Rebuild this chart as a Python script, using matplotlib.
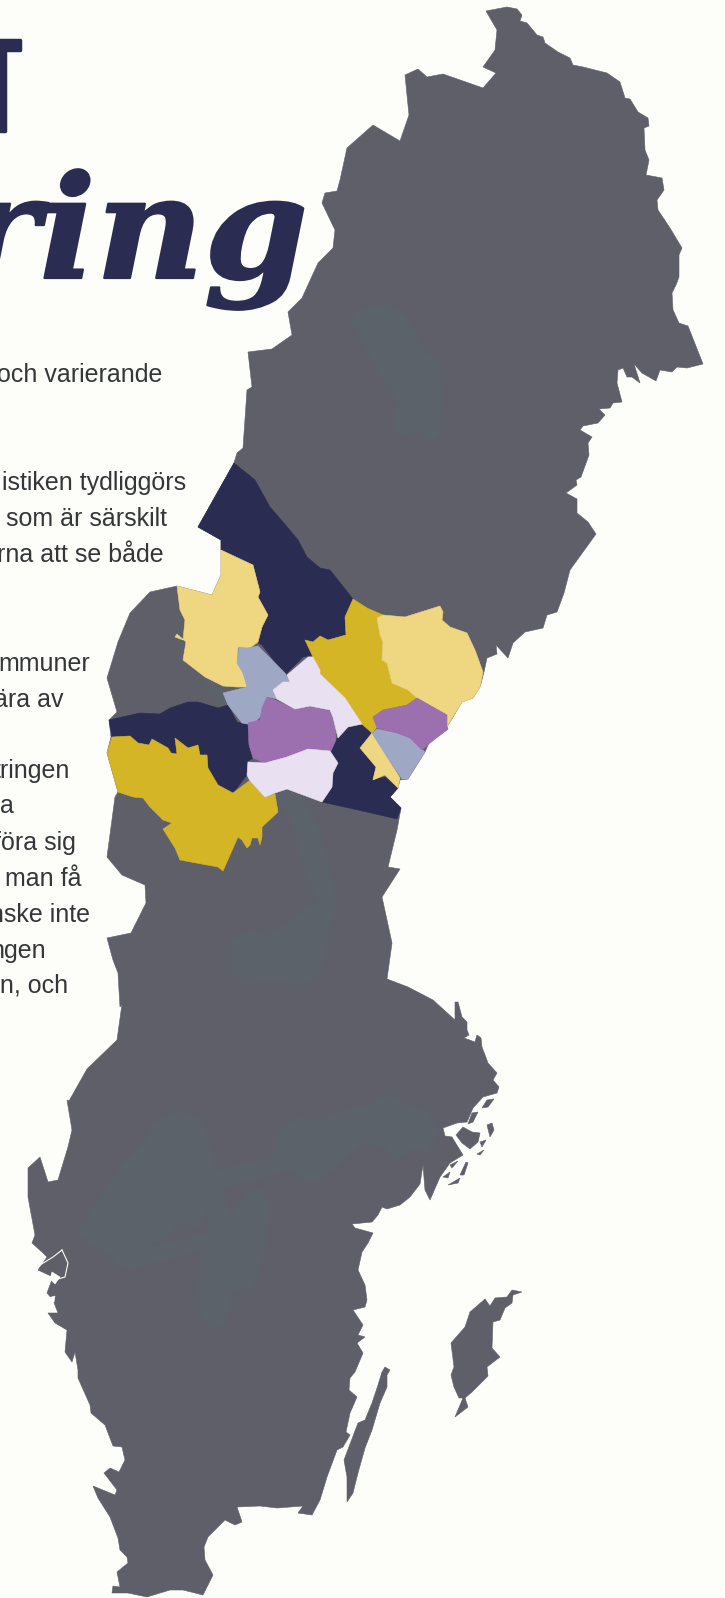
import matplotlib
matplotlib.use("Agg")
import matplotlib.pyplot as plt
from matplotlib.patheffects import AbstractPathEffect
from matplotlib.transforms import Affine2D

# outlines, in image pixels (x, y)
mainland = [
    (486, 11), (507, 7), (517, 9), (522, 15), (520, 21), (527, 23), (537, 35), (543, 37), (545, 43), (558, 52),
    (570, 58), (573, 65), (583, 67), (607, 73), (620, 82), (625, 98), (630, 99), (638, 112), (648, 118), (649, 126),
    (644, 128), (645, 150), (649, 160), (646, 175), (662, 178), (664, 190), (657, 200), (658, 210), (670, 228),
    (682, 248), (679, 255), (679, 277), (676, 285), (672, 293), (673, 310), (679, 323), (688, 326), (703, 364),
    (687, 368), (677, 367), (672, 372), (660, 370), (656, 381), (642, 373), (634, 364), (640, 383), (632, 377),
    (627, 377), (623, 368), (618, 370), (617, 383), (622, 402), (613, 403), (610, 408), (599, 409), (605, 415),
    (598, 423), (583, 426), (580, 430), (592, 437), (588, 443), (589, 455), (581, 477), (576, 480), (577, 485),
    (566, 493), (577, 499), (577, 513), (588, 522), (596, 534), (583, 552), (570, 570), (564, 593), (557, 612),
    (547, 615), (543, 628), (525, 632), (513, 643), (508, 658), (496, 645), (497, 654), (487, 658), (484, 672),
    (480, 687), (473, 698), (462, 702), (447, 727), (448, 729), (429, 743), (425, 752), (408, 779), (400, 780),
    (398, 788), (390, 797), (401, 808), (397, 830), (388, 867), (400, 869), (382, 897), (392, 943), (387, 979),
    (408, 987), (433, 1000), (455, 1020), (455, 1002), (458, 1002), (462, 1017), (467, 1022), (467, 1030),
    (469, 1035), (464, 1038), (475, 1042), (477, 1035), (481, 1038), (482, 1047), (488, 1063), (497, 1073),
    (493, 1080), (499, 1087), (497, 1093), (483, 1097), (473, 1108), (467, 1122), (457, 1123), (443, 1128),
    (445, 1136), (452, 1137), (455, 1142), (463, 1155), (450, 1163), (440, 1177), (430, 1200), (425, 1190),
    (423, 1165), (420, 1184), (410, 1197), (400, 1205), (387, 1209), (382, 1207), (378, 1215), (372, 1222),
    (352, 1224), (355, 1228), (373, 1233), (368, 1243), (362, 1252), (358, 1270), (365, 1285), (367, 1300),
    (365, 1307), (353, 1310), (363, 1325), (358, 1335), (365, 1337), (357, 1343), (363, 1353), (355, 1372),
    (350, 1378), (349, 1390), (357, 1397), (350, 1413), (346, 1432), (350, 1435), (343, 1447), (337, 1450),
    (327, 1477), (320, 1500), (312, 1515), (298, 1513), (303, 1506), (277, 1508), (260, 1506), (237, 1507),
    (242, 1522), (235, 1525), (225, 1520), (208, 1537), (204, 1547), (205, 1560), (213, 1575), (203, 1595),
    (183, 1590), (170, 1590), (147, 1597), (128, 1593), (112, 1593), (113, 1586), (120, 1587), (117, 1572),
    (128, 1563), (127, 1557), (120, 1550), (118, 1538), (110, 1517), (98, 1498), (93, 1486), (115, 1495),
    (117, 1490), (104, 1473), (110, 1468), (119, 1472), (125, 1460), (122, 1447), (113, 1446), (105, 1425),
    (91, 1413), (90, 1405), (78, 1378), (78, 1370), (75, 1352), (72, 1362), (65, 1352), (67, 1330), (55, 1323),
    (48, 1313), (58, 1313), (53, 1300), (47, 1293), (53, 1277), (38, 1270), (47, 1257), (43, 1253), (32, 1243),
    (35, 1235), (28, 1197), (28, 1168), (40, 1157), (48, 1182), (58, 1180), (68, 1147), (72, 1130), (67, 1100),
    (69, 1101), (87, 1069), (117, 1040), (122, 1004), (120, 1007), (118, 973), (113, 960), (107, 938), (131, 933),
    (146, 903), (145, 885), (122, 875), (107, 857), (115, 797), (118, 792), (107, 753), (111, 737), (109, 720),
    (117, 712), (107, 678), (118, 642), (130, 613), (150, 592), (177, 586), (212, 595), (221, 575), (221, 540),
    (198, 527), (234, 463), (237, 453), (243, 448), (247, 390), (252, 387), (248, 352), (272, 349), (292, 335),
    (288, 312), (302, 298), (318, 263), (333, 248), (335, 230), (322, 203), (325, 193), (337, 191), (340, 180),
    (347, 148), (373, 125), (400, 141), (409, 115), (405, 75), (418, 69), (427, 77), (443, 74), (483, 88),
    (496, 73), (483, 67), (495, 50), (497, 30),
]
gotland = [
    (522, 1292), (512, 1290), (507, 1297), (495, 1298), (490, 1306), (485, 1299), (470, 1312), (465, 1327),
    (451, 1343), (454, 1367), (451, 1375), (454, 1387), (459, 1398), (463, 1398), (455, 1417), (468, 1407),
    (465, 1398), (472, 1392), (488, 1376), (487, 1367), (500, 1357), (492, 1348), (493, 1322), (500, 1320),
    (505, 1308), (512, 1303), (513, 1295),
]
oland = [
    (385, 1367), (390, 1370), (387, 1375), (387, 1387), (380, 1403), (372, 1430), (365, 1448), (358, 1473),
    (353, 1493), (347, 1502), (347, 1477), (344, 1460), (358, 1423), (365, 1420), (372, 1403), (378, 1385),
    (382, 1372),
]
skerries = [
    [(482, 1108), (487, 1100), (494, 1099), (488, 1107)],
    [(468, 1124), (472, 1113), (478, 1112), (473, 1122)],
    [(487, 1125), (492, 1123), (494, 1130), (490, 1137)],
    [(463, 1127), (472, 1132), (480, 1133), (478, 1142), (470, 1149), (462, 1143), (456, 1135)],
    [(480, 1142), (486, 1140), (482, 1147)],
    [(477, 1154), (484, 1150), (480, 1155)],
    [(460, 1175), (466, 1162), (468, 1163), (464, 1175)],
    [(443, 1177), (450, 1172), (448, 1178)],
    [(448, 1185), (460, 1178), (458, 1183)],
    [(450, 1165), (458, 1161), (452, 1168)],
]
west_channel = [(62, 1250), (68, 1263), (65, 1277), (58, 1279), (53, 1277)]
west_channel2 = [(62, 1250), (53, 1257), (40, 1265)]
west_holes = [
    [(52, 1272), (60, 1277), (55, 1284), (50, 1279)],
    [(48, 1298), (55, 1296), (54, 1302), (49, 1303)],
]

# lighter mountain areas under the counties
fjall_north = [
    (350, 320), (358, 310), (390, 303), (407, 317), (427, 353), (440, 360), (443, 400), (438, 437), (427, 442),
    (417, 430), (403, 437), (393, 430), (397, 397), (377, 370),
]
fjall_mid = [(205, 675), (223, 690), (228, 702), (222, 707), (207, 693)]
fjall_band = [
    (283, 790), (300, 793), (320, 830), (337, 900), (320, 975), (300, 985), (270, 980), (245, 985), (230, 970),
    (232, 940), (250, 930), (270, 935), (290, 920), (318, 900), (305, 870), (290, 820), (275, 795),
]
fjall_south = [
    (78, 1233), (92, 1210), (120, 1167), (148, 1137), (152, 1123), (177, 1112), (200, 1117), (210, 1143),
    (215, 1170), (273, 1157), (273, 1137), (297, 1117), (320, 1120), (345, 1110), (370, 1105), (383, 1097),
    (393, 1095), (407, 1107), (427, 1110), (440, 1130), (428, 1152), (413, 1148), (397, 1162), (385, 1147),
    (360, 1145), (320, 1182), (307, 1182), (290, 1170), (223, 1188), (230, 1217), (250, 1190), (263, 1190),
    (270, 1207), (265, 1253), (253, 1287), (233, 1292), (225, 1325), (213, 1330), (202, 1317), (197, 1287),
    (202, 1250), (130, 1270), (115, 1263), (113, 1255), (95, 1247),
]
fjall_gap = [(153, 1245), (172, 1236), (175, 1224), (200, 1228), (208, 1205), (207, 1232), (180, 1240)]

navy_north = [
    (234, 463), (255, 480), (270, 507), (283, 522), (298, 540), (307, 557), (320, 568), (330, 570), (353, 599),
    (345, 617), (346, 635), (328, 640), (320, 636), (313, 642), (305, 640), (313, 655), (303, 657), (285, 675),
    (262, 645), (257, 642), (262, 627), (268, 615), (258, 597), (260, 592), (253, 565), (221, 550), (221, 540),
    (198, 527),
]
navy_west = [
    (109, 720), (140, 713), (160, 714), (170, 708), (188, 702), (198, 702), (218, 708), (228, 705), (237, 722),
    (248, 725), (249, 745), (253, 758), (247, 762), (247, 775), (233, 793), (218, 785), (208, 768), (207, 755),
    (200, 755), (198, 745), (188, 748), (175, 738), (177, 754), (171, 753), (168, 748), (152, 739), (149, 745),
    (138, 743), (130, 736), (112, 737),
]
navy_east = [
    (362, 725), (372, 733), (360, 748), (376, 767), (372, 780), (385, 777), (398, 788), (390, 797), (401, 808),
    (397, 819), (367, 812), (322, 802), (332, 788), (333, 773), (338, 763), (330, 750), (337, 738), (348, 727),
]
gold_west = [
    (107, 753), (112, 737), (130, 736), (138, 743), (149, 745), (152, 739), (168, 748), (171, 753), (177, 754),
    (175, 738), (188, 748), (198, 745), (200, 755), (207, 755), (208, 768), (218, 785), (233, 793), (249, 781),
    (265, 797), (275, 794), (278, 812), (262, 827), (262, 837), (260, 845), (258, 838), (252, 838), (250, 845),
    (247, 848), (242, 840), (238, 837), (223, 871), (218, 867), (180, 860), (175, 848), (163, 829), (172, 823),
    (163, 820), (150, 807), (143, 798), (133, 797), (118, 792),
]
gold_east = [
    (353, 599), (367, 608), (383, 615), (377, 618), (380, 635), (383, 642), (382, 660), (387, 663), (392, 683),
    (408, 690), (417, 698), (407, 705), (383, 710), (373, 717), (377, 727), (372, 733), (362, 724), (345, 698),
    (320, 674), (320, 669), (313, 657), (305, 640), (313, 642), (320, 636), (328, 640), (346, 635), (345, 617),
]
yellow_west = [
    (221, 550), (253, 565), (260, 592), (258, 597), (268, 615), (262, 627), (258, 642), (247, 650), (238, 647),
    (237, 660), (245, 678), (247, 687), (237, 687), (223, 686), (205, 677), (183, 660), (186, 642), (177, 634),
    (175, 637), (183, 640), (185, 620), (180, 610), (177, 586), (212, 595), (221, 575),
]
yellow_east = [
    (383, 615), (405, 617), (440, 606), (443, 612), (442, 620), (450, 627), (467, 633), (475, 650), (483, 672),
    (480, 687), (473, 698), (462, 702), (452, 718), (447, 727), (447, 715), (417, 698), (408, 690), (392, 683),
    (387, 663), (382, 660), (383, 642), (380, 635), (377, 618),
]
yellow_south = [
    (372, 733), (387, 757), (400, 778), (398, 788), (393, 783), (385, 775), (373, 780), (376, 767), (360, 748),
]
blue_west = [
    (239, 647), (247, 648), (258, 646), (285, 673), (290, 682), (283, 682), (273, 690), (278, 699), (267, 697),
    (262, 715), (255, 722), (248, 724), (242, 723), (228, 705), (223, 693), (247, 687), (243, 673), (237, 663),
]
blue_east = [
    (372, 733), (377, 729), (397, 733), (410, 738), (425, 752), (408, 779), (402, 779), (387, 757),
]
purple_west = [
    (267, 697), (275, 700), (295, 709), (310, 706), (330, 711), (335, 718), (336, 740), (331, 751), (308, 749),
    (287, 757), (265, 763), (253, 758), (249, 745), (248, 723), (260, 720), (262, 708),
]
purple_east = [
    (417, 698), (447, 715), (447, 727), (448, 729), (430, 743), (422, 750), (410, 738), (397, 733), (377, 728),
    (373, 717), (383, 710), (407, 705),
]
lilac_north = [
    (287, 675), (308, 657), (313, 657), (320, 670), (320, 674), (345, 698), (362, 724), (348, 727), (338, 738),
    (333, 717), (330, 710), (310, 706), (295, 709), (277, 699), (273, 690), (283, 682), (290, 682),
]
lilac_south = [
    (248, 762), (265, 763), (287, 757), (308, 749), (330, 751), (338, 763), (333, 773), (332, 787), (322, 802),
    (287, 789), (275, 793), (265, 797), (250, 781), (247, 775),
]

# visible ends of the intro text lines, cut by the left edge of the page
body_lines = [
    "och varierande", "istiken tydliggörs", "som är särskilt", "rna att se både", "mmuner", "ära av",
    "tringen", "a", "föra sig", "man få", "anske inte", "ngen", "en, och",
]
body_right = [162, 186, 167, 164, 90, 64, 70, 14, 76, 82, 90, 46, 68]
body_base = [382, 490, 526, 562, 671, 707, 778, 813, 850, 886, 922, 958, 993]

BG = "#fdfef9"
GREY = "#5f5f69"
FJALL = "#5c6269"
NAVY = "#2a2c52"
GOLD = "#d4b526"
YELLOW = "#efd680"
BLUE = "#9ea8c5"
PURPLE = "#9c6faf"
LILAC = "#e9e0f1"
INK = "#35363a"


class StretchX(AbstractPathEffect):
    # no installed face has these title proportions, so stretch and embolden the glyphs
    def __init__(self, sx, lw=0.0):
        super().__init__()
        self.sx = sx
        self.lw = lw

    def draw_path(self, renderer, gc, tpath, affine, rgbFace=None):
        gc0 = renderer.new_gc()
        gc0.copy_properties(gc)
        gc0.set_linewidth(self.lw)
        gc0.set_foreground(rgbFace)
        renderer.draw_path(gc0, tpath, Affine2D().scale(self.sx, 1) + affine, rgbFace)
        gc0.restore()


def draw_shape(ax, pts, color, z):
    xs = [p[0] for p in pts]
    ys = [p[1] for p in pts]
    ax.fill(xs, ys, facecolor=color, edgecolor=color, linewidth=0.4, zorder=z)


fig = plt.figure(figsize=(7.25, 15.98), dpi=100, facecolor=BG)
ax = fig.add_axes([0, 0, 1, 1])
ax.set_xlim(0, 725)
ax.set_ylim(1598, 0)
ax.axis("off")

for shape in [mainland, gotland, oland] + skerries:
    draw_shape(ax, shape, GREY, 1)
for shape in [fjall_north, fjall_mid, fjall_band, fjall_south]:
    draw_shape(ax, shape, FJALL, 2)
draw_shape(ax, fjall_gap, GREY, 3)
for shape in west_holes:
    draw_shape(ax, shape, BG, 3)
for line in [west_channel, west_channel2]:
    ax.plot([p[0] for p in line], [p[1] for p in line], color=BG, lw=0.8, zorder=3)

counties = [
    (navy_north, NAVY), (navy_west, NAVY), (navy_east, NAVY),
    (gold_west, GOLD), (gold_east, GOLD),
    (yellow_west, YELLOW), (yellow_east, YELLOW), (yellow_south, YELLOW),
    (blue_west, BLUE), (blue_east, BLUE),
    (purple_west, PURPLE), (purple_east, PURPLE),
    (lilac_north, LILAC), (lilac_south, LILAC),
]
for shape, color in counties:
    draw_shape(ax, shape, color, 4)

ax.text(-16, 131, "T", color=NAVY, fontsize=95, family="Liberation Sans", ha="left", va="baseline",
        path_effects=[StretchX(0.46, lw=2.5)], zorder=5)
ax.text(-39, 278, "ring", color=NAVY, fontsize=103, family="DejaVu Serif", weight="bold", style="italic",
        ha="left", va="baseline", path_effects=[StretchX(1.04, lw=1.6)], zorder=5)

for line, right, base in zip(body_lines, body_right, body_base):
    ax.text(right, base, line, color=INK, fontsize=18, family="Liberation Sans", ha="right", va="baseline", zorder=5)

fig.savefig("out.png", dpi=100, facecolor=BG)
